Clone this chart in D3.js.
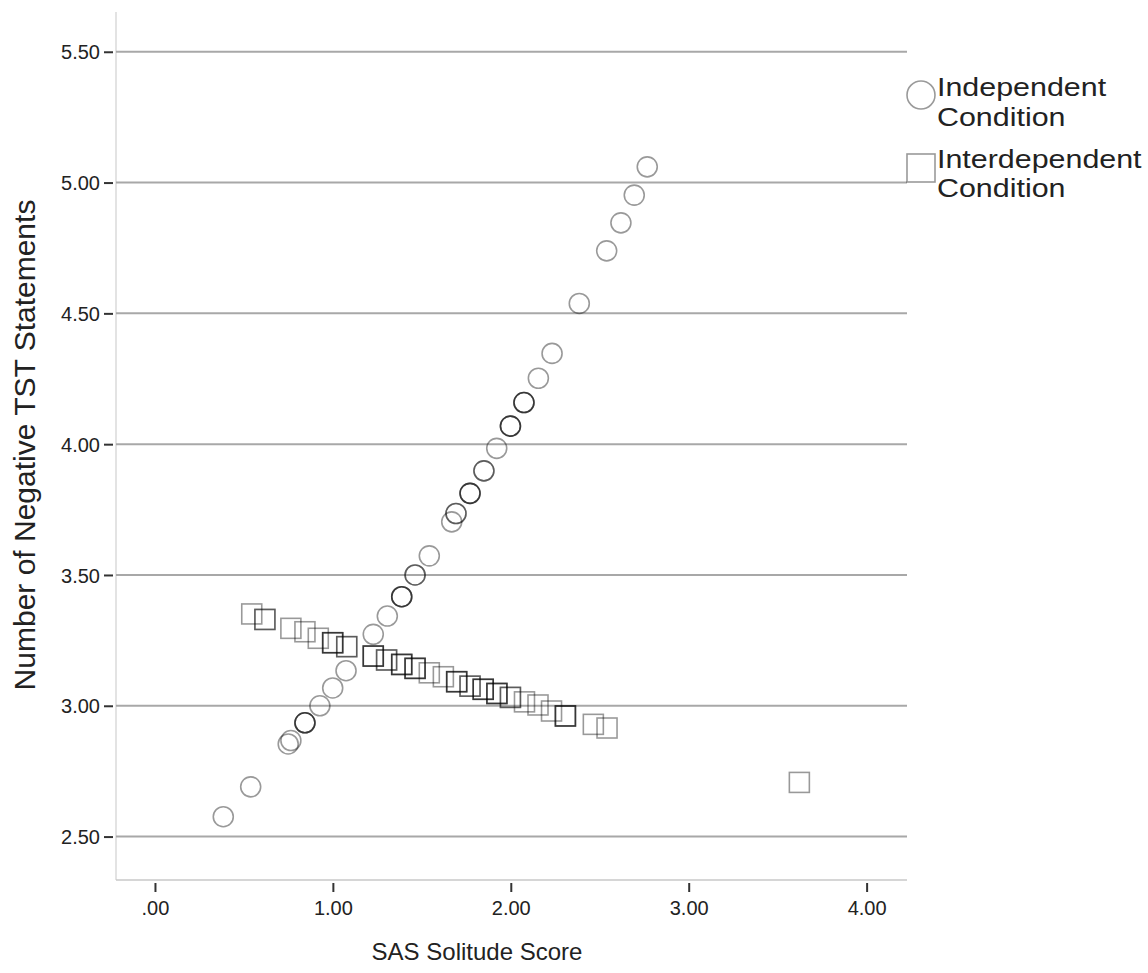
<!DOCTYPE html>
<html>
<head>
<meta charset="utf-8">
<script src="https://cdn.jsdelivr.net/npm/d3@7"></script>
<style>
  html, body { margin: 0; padding: 0; background: #fff; }
  svg { display: block; font-family: "Liberation Sans", Arial, sans-serif; }
</style>
</head>
<body>
<svg id="chart" width="1148" height="973"></svg>
<script>
// ---- data ----
const seriesNames = ["Independent Condition", "Interdependent Condition"];
const legendLines = [["Independent", "Condition"], ["Interdependent", "Condition"]];

const indepX = [0.384, 0.538, 0.749, 0.764, 0.843, 0.927, 0.999, 1.074, 1.227, 1.306, 1.387, 1.462, 1.542, 1.668, 1.692, 1.771, 1.849, 1.921, 1.998, 2.074, 2.155, 2.232, 2.385, 2.539, 2.619, 2.694, 2.767];
const indepY = [2.576, 2.690, 2.854, 2.867, 2.935, 3.000, 3.068, 3.134, 3.273, 3.343, 3.417, 3.500, 3.573, 3.703, 3.735, 3.812, 3.898, 3.984, 4.069, 4.159, 4.252, 4.347, 4.538, 4.739, 4.846, 4.952, 5.060];
const indepN = [1, 1, 1, 1, 3, 1, 1, 1, 1, 1, 3, 2, 1, 1, 2, 3, 2, 1, 3, 3, 1, 1, 1, 1, 1, 1, 1];

const interX = [0.544, 0.618, 0.764, 0.843, 0.918, 0.999, 1.078, 1.227, 1.302, 1.387, 1.462, 1.542, 1.621, 1.696, 1.771, 1.845, 1.922, 1.998, 2.077, 2.153, 2.229, 2.307, 2.464, 2.541, 3.622];
const interY = [3.351, 3.330, 3.296, 3.283, 3.258, 3.241, 3.226, 3.190, 3.175, 3.158, 3.143, 3.126, 3.111, 3.092, 3.075, 3.063, 3.047, 3.032, 3.015, 3.003, 2.980, 2.961, 2.929, 2.915, 2.707];
const interN = [1, 2, 1, 1, 1, 3, 2, 3, 2, 3, 3, 1, 1, 3, 2, 3, 3, 2, 1, 1, 1, 3, 1, 1, 1];

const xTickValues = [0, 1, 2, 3, 4];
const xTickLabels = [".00", "1.00", "2.00", "3.00", "4.00"];
const yTickValues = [2.5, 3.0, 3.5, 4.0, 4.5, 5.0, 5.5];
const yTickLabels = ["2.50", "3.00", "3.50", "4.00", "4.50", "5.00", "5.50"];

const xTitle = "SAS Solitude Score";
const yTitle = "Number of Negative TST Statements";

// ---- layout ----
const FONT = "'Liberation Sans', Arial, sans-serif";
const svg = d3.select("#chart");
const plotL = 116, plotR = 907, plotT = 12, plotB = 880;

const x = d3.scaleLinear().domain([-0.219, 4.227]).range([plotL, plotR]);
const y = d3.scaleLinear().domain([2.334, 5.652]).range([plotB, plotT]);

// frame lines
svg.append("line").attr("x1", plotL).attr("x2", plotL).attr("y1", plotT).attr("y2", plotB)
  .attr("stroke", "#d0d0d0").attr("stroke-width", 1.2);
svg.append("line").attr("x1", plotL).attr("x2", plotR).attr("y1", plotB).attr("y2", plotB)
  .attr("stroke", "#c8c8c8").attr("stroke-width", 1.5);

// gridlines
svg.append("g").selectAll("line").data(yTickValues).join("line")
  .attr("x1", plotL).attr("x2", plotR)
  .attr("y1", d => y(d)).attr("y2", d => y(d))
  .attr("stroke", "#a8a8a8").attr("stroke-width", 2);

// y axis
const yAxis = d3.axisLeft(y).tickValues(yTickValues)
  .tickFormat((d, i) => yTickLabels[i]).tickSize(9).tickPadding(4);
const gy = svg.append("g").attr("transform", `translate(${plotL - 3},0)`).call(yAxis);
gy.select(".domain").remove();
gy.selectAll(".tick line").attr("stroke", "#333").attr("stroke-width", 2);
gy.selectAll(".tick text").attr("font-size", 20).attr("fill", "#222")
  .attr("font-family", FONT).attr("dy", "0.36em");

// x axis
const xAxis = d3.axisBottom(x).tickValues(xTickValues)
  .tickFormat((d, i) => xTickLabels[i]).tickSize(9).tickPadding(9);
const gx = svg.append("g").attr("transform", `translate(0,${plotB + 3})`).call(xAxis);
gx.select(".domain").remove();
gx.selectAll(".tick line").attr("stroke", "#333").attr("stroke-width", 2);
gx.selectAll(".tick text").attr("font-size", 20).attr("fill", "#222")
  .attr("font-family", FONT);

// axis titles
svg.append("text").attr("x", 477).attr("y", 960)
  .attr("text-anchor", "middle").attr("font-size", 24).attr("fill", "#222")
  .attr("font-family", FONT).text(xTitle);
svg.append("text").attr("transform", "translate(35,445) rotate(-90)")
  .attr("text-anchor", "middle").attr("font-size", 30).attr("fill", "#222")
  .attr("font-family", FONT).text(yTitle);

// expand points by overlap count
function expand(xs, ys, ns) {
  const out = [];
  xs.forEach((v, i) => { for (let k = 0; k < ns[i]; k++) out.push({ x: v, y: ys[i] }); });
  return out;
}
const indepPts = expand(indepX, indepY, indepN);
const interPts = expand(interX, interY, interN);

const markStroke = "#000", markOpacity = 0.4;

// squares
const sq = 20;
svg.append("g").selectAll("rect").data(interPts).join("rect")
  .attr("x", d => x(d.x) - sq / 2).attr("y", d => y(d.y) - sq / 2)
  .attr("width", sq).attr("height", sq)
  .attr("fill", "none").attr("stroke", markStroke).attr("stroke-opacity", markOpacity)
  .attr("stroke-width", 1.6);

// circles
svg.append("g").selectAll("circle").data(indepPts).join("circle")
  .attr("cx", d => x(d.x)).attr("cy", d => y(d.y)).attr("r", 10)
  .attr("fill", "none").attr("stroke", markStroke).attr("stroke-opacity", markOpacity)
  .attr("stroke-width", 1.6);

// legend
const lg = svg.append("g");
lg.append("circle").attr("cx", 921).attr("cy", 95).attr("r", 14)
  .attr("fill", "none").attr("stroke", "#000").attr("stroke-opacity", markOpacity).attr("stroke-width", 1.6);
lg.append("rect").attr("x", 907).attr("y", 154).attr("width", 28).attr("height", 28)
  .attr("fill", "none").attr("stroke", "#000").attr("stroke-opacity", markOpacity).attr("stroke-width", 1.6);
const legendBaselines = [[96, 126], [168, 197]];
legendLines.forEach((lines, i) => {
  lines.forEach((t, j) => {
    lg.append("text")
      .attr("transform", `translate(937,${legendBaselines[i][j]}) scale(1.17,1)`)
      .attr("font-size", 26).attr("fill", "#222").attr("font-family", FONT).text(t);
  });
});
</script>
</body>
</html>
